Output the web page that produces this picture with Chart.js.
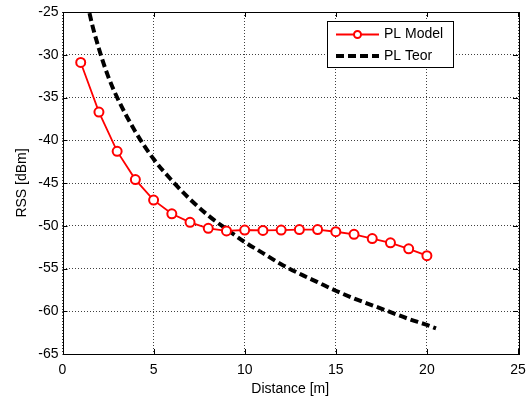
<!DOCTYPE html>
<html><head><meta charset="utf-8">
<script src="https://cdn.jsdelivr.net/npm/chart.js@4/dist/chart.umd.min.js"></script>
<style>html,body{margin:0;padding:0;background:#fff}canvas{display:block}</style>
</head><body>
<canvas id="c" width="528" height="399"></canvas>
<script>
const modelDist = [1,2,3,4,5,6,7,8,9,10,11,12,13,14,15,16,17,18,19,20];
const modelRSS  = [-30.9,-36.7,-41.3,-44.6,-47.0,-48.6,-49.6,-50.3,-50.6,-50.5,-50.55,-50.5,-50.45,-50.45,-50.7,-51.0,-51.5,-52.0,-52.7,-53.5];
const teorDist  = [1,1.5,2,2.5,3,4,5,6,7,8,9,10,11,12,13,14,15,16,17,18,19,20,20.5];
const teorRSS   = [-19.6,-25.3,-29.3,-32.5,-35.0,-39.0,-42.2,-44.7,-46.9,-48.8,-50.4,-51.9,-53.2,-54.5,-55.6,-56.6,-57.6,-58.5,-59.3,-60.1,-60.9,-61.6,-62.0];
const xTicks = [0,5,10,15,20,25];
const yTicks = [-65,-60,-55,-50,-45,-40,-35,-30,-25];
const labels = ['PL Model','PL Teor'];

const FONT = "'Liberation Sans', Arial, sans-serif";

const framePlugin = {
  id:'frame',
  afterDraw(chart){
    const {ctx, chartArea:a, scales} = chart;
    ctx.save();
    ctx.strokeStyle='#000'; ctx.lineWidth=1; ctx.setLineDash([]);
    ctx.strokeRect(Math.round(a.left)+0.5, Math.round(a.top)+0.5, Math.round(a.right-a.left), Math.round(a.bottom-a.top));
    const tl=5;
    ctx.beginPath();
    xTicks.forEach(v=>{const x=Math.round(scales.x.getPixelForValue(v))+0.5;
      ctx.moveTo(x,a.bottom); ctx.lineTo(x,a.bottom-tl); ctx.moveTo(x,a.top); ctx.lineTo(x,a.top+tl);});
    yTicks.forEach(v=>{const y=Math.round(scales.y.getPixelForValue(v))+0.5;
      ctx.moveTo(a.left,y); ctx.lineTo(a.left+tl,y); ctx.moveTo(a.right,y); ctx.lineTo(a.right-tl,y);});
    ctx.stroke();
    // legend
    const bx=327.5, by=21.5, bw=126, bh=46;
    ctx.fillStyle='#fff'; ctx.fillRect(bx,by,bw,bh);
    ctx.strokeRect(bx,by,bw,bh);
    const d0=chart.data.datasets[0], d1=chart.data.datasets[1];
    let y1=34.5, y2=56;
    ctx.strokeStyle=d0.borderColor; ctx.lineWidth=2;
    ctx.beginPath(); ctx.moveTo(336,y1); ctx.lineTo(379,y1); ctx.stroke();
    ctx.beginPath(); ctx.arc(357.5,y1,3.5,0,Math.PI*2); ctx.fillStyle='#fff'; ctx.fill(); ctx.stroke();
    ctx.strokeStyle=d1.borderColor; ctx.lineWidth=d1.borderWidth; ctx.setLineDash(d1.borderDash);
    ctx.beginPath(); ctx.moveTo(336,y2); ctx.lineTo(379,y2); ctx.stroke();
    ctx.setLineDash([]);
    ctx.fillStyle='#000'; ctx.font='14px '+FONT; ctx.textBaseline='middle'; ctx.textAlign='left';
    ctx.fillText(d0.label,384,y1); ctx.fillText(d1.label,384,y2);
    ctx.restore();
  }
};

new Chart(document.getElementById('c'),{
  type:'scatter',
  data:{datasets:[
    {label:labels[0], data:modelDist.map((d,i)=>({x:d,y:modelRSS[i]})), showLine:true,
     borderColor:'#ff0000', borderWidth:1.8, pointRadius:4.5, pointBorderWidth:2,
     pointBackgroundColor:'#ffffff', pointBorderColor:'#ff0000', tension:0, order:1},
    {label:labels[1], data:teorDist.map((d,i)=>({x:d,y:teorRSS[i]})), showLine:true,
     borderColor:'#000000', borderWidth:4, borderDash:[8,4], pointRadius:0, cubicInterpolationMode:'monotone', order:2}
  ]},
  options:{
    responsive:false, animation:false, devicePixelRatio:1,
    layout:{padding:{left:0,top:12,right:10,bottom:0}},
    plugins:{legend:{display:false}, tooltip:{enabled:false}},
    scales:{
      x:{type:'linear', min:0, max:25,
        afterBuildTicks(s){s.ticks=xTicks.map(v=>({value:v}));},
        afterFit(s){s.height=45; s.paddingLeft=0; s.paddingRight=0;},
        ticks:{font:{size:14,family:FONT}, color:'#000', padding:8, maxRotation:0},
        grid:{drawTicks:false, color:'rgba(0,0,0,0.75)', lineWidth:1},
        border:{display:false, dash:[1,2]},
        title:{display:true, text:'Distance [m]', font:{size:14,family:FONT}, color:'#000', padding:{top:0,bottom:1}}
      },
      y:{min:-65, max:-25,
        afterBuildTicks(s){s.ticks=yTicks.map(v=>({value:v}));},
        afterFit(s){s.width=62.5; s.paddingTop=0; s.paddingBottom=0;},
        ticks:{font:{size:14,family:FONT}, color:'#000', padding:4},
        grid:{drawTicks:false, color:'rgba(0,0,0,0.75)', lineWidth:1},
        border:{display:false, dash:[1,2]},
        title:{display:true, text:'RSS [dBm]', font:{size:14,family:FONT}, color:'#000', padding:{top:14,bottom:0}}
      }
    }
  },
  plugins:[framePlugin]
});
</script>
</body></html>
